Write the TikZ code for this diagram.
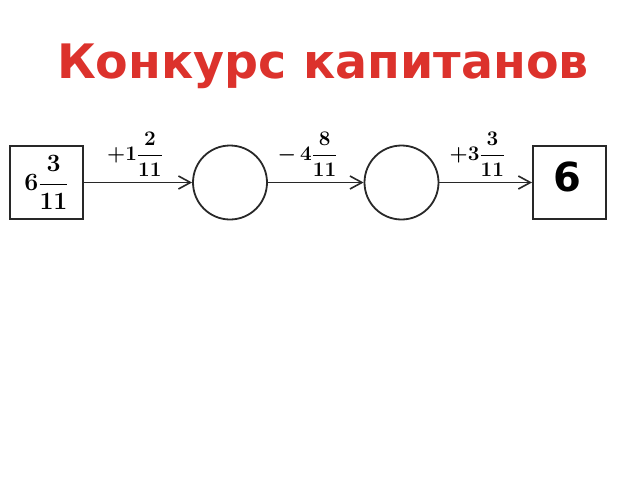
\documentclass[tikz,border=0pt]{standalone}
\usepackage{fontspec}
\usepackage{amsmath}
\newfontfamily\titlefont{DejaVu Sans}
\usetikzlibrary{arrows.meta}
\definecolor{titlered}{RGB}{220,50,44}
\definecolor{ink}{RGB}{40,40,40}
\begin{document}
\begin{tikzpicture}[x=1pt,y=-1pt,
  box/.style={draw=ink,line width=2pt,minimum size=73pt,inner sep=0pt},
  ring/.style={draw=ink,circle,line width=1.8pt,minimum size=74pt,inner sep=0pt},
  flow/.style={draw=ink,line width=1.8pt,-{Straight Barb[length=12pt,width=13pt,line width=1.6pt]}},
  oplabel/.style={font=\fontsize{19.5}{21}\selectfont\boldmath,inner sep=0pt}]
  \useasboundingbox(0,0)rectangle(640,480);
  \node[anchor=base,text=titlered,font=\titlefont\bfseries\fontsize{47.5}{52}\selectfont](title) at (323,78){Конкурс капитанов};
  % chain
  \node[box,font=\fontsize{23}{25}\selectfont\boldmath](start) at (46.5,182.5){$6\dfrac{3}{11}$};
  \node[ring](c1) at (230,182.5){};
  \node[ring](c2) at (401.5,182.5){};
  \node[box](finish) at (569.5,182.5){};
  \node[font=\titlefont\bfseries\fontsize{40}{44}\selectfont,inner sep=0pt](answer) at (567.5,177){6};
  \draw[flow](start)--(c1);
  \draw[flow](c1)--(c2);
  \draw[flow](c2)--(finish);
  \node[oplabel](op1) at (135,154){$+1\dfrac{2}{11}$};
  \node[oplabel](op2) at (307.5,154){$-\,4\dfrac{8}{11}$};
  \node[oplabel](op3) at (477.5,154){$+3\dfrac{3}{11}$};
\end{tikzpicture}
\end{document}
